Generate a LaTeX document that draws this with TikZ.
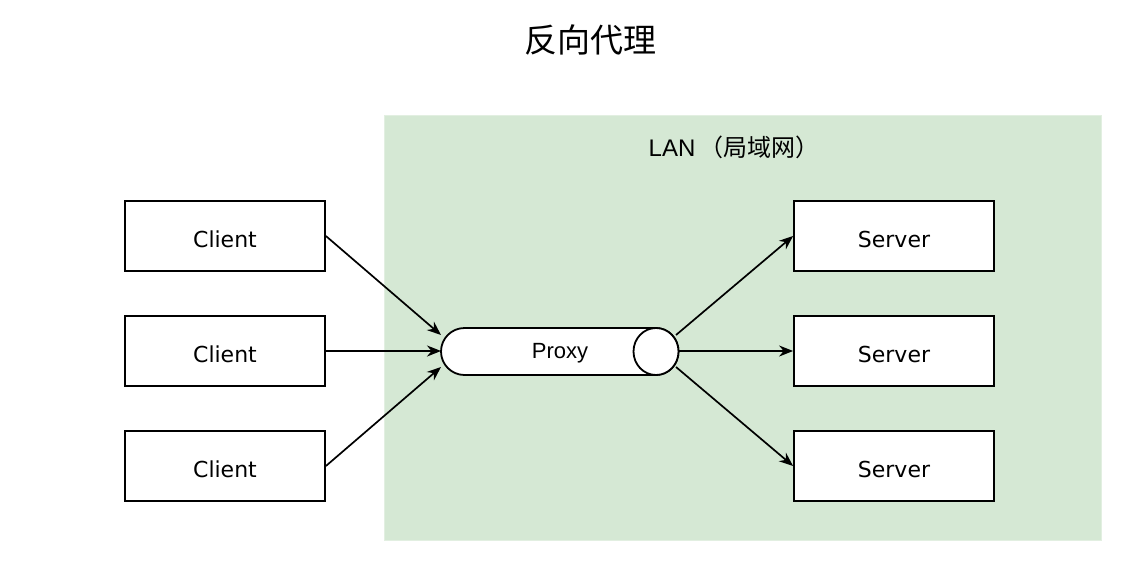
\documentclass[tikz,border=0pt]{standalone}
\usepackage{fontspec}
\setmainfont{DejaVu Sans}
\newfontfamily\helv{Liberation Sans}
\newfontfamily\cjk{Noto Sans CJK SC}
\usetikzlibrary{arrows.meta}
\definecolor{langreen}{HTML}{D5E8D4}
\tikzset{
  box/.style={draw=black, line width=1.8pt, fill=white, minimum width=200pt, minimum height=70pt, inner sep=0pt, text height=22pt, text depth=0pt, font=\fontsize{22}{26}\selectfont},
  conn/.style={line width=1.7pt, -{Stealth[length=14pt,width=11pt]}},
}
\begin{document}
\begin{tikzpicture}[x=1pt,y=-1pt]
\useasboundingbox (0,0) rectangle (1137,560);
\fill[white] (0,0) rectangle (1137,560);
% LAN region
\node[fill=langreen, draw=langreen!70!white, minimum width=717pt, minimum height=425pt, inner sep=0pt, anchor=north west] (lan) at (384,115) {};
\node[font=\cjk\fontsize{33}{38}\selectfont] (title) at (590,40) {反向代理};
\node[font=\fontsize{24}{28}\selectfont] (lanlabel) at (734,147) {{\helv LAN}\,{\cjk （局域网）}};
% clients
\node[box] (c1) at (225,236) {Client};
\node[box] (c2) at (225,351) {Client};
\node[box] (c3) at (225,466) {Client};
% servers
\node[box] (s1) at (894,236) {Server};
\node[box] (s2) at (894,351) {Server};
\node[box] (s3) at (894,466) {Server};
% proxy cylinder
\draw[line width=1.8pt, fill=white] (464.5,328) -- (656,328) arc[start angle=-90, end angle=90, x radius=22.5, y radius=23.5] -- (464.5,375) arc[start angle=90, end angle=270, x radius=23.5, y radius=23.5] -- cycle;
\draw[line width=1.8pt, fill=white] (656,351.5) ellipse[x radius=22.5, y radius=23.5];
\node[font=\helv\fontsize{22}{26}\selectfont, inner sep=0pt, text height=16pt, text depth=0pt] (proxy) at (560,350) {Proxy};
\coordinate (pin1) at (441,335);
\coordinate (pin2) at (441,351);
\coordinate (pin3) at (441,367);
\coordinate (pout1) at (676,335);
\coordinate (pout2) at (678.5,351);
\coordinate (pout3) at (676,367);
\draw[conn] (c1.east) -- (pin1);
\draw[conn] (c2.east) -- (pin2);
\draw[conn] (c3.east) -- (pin3);
\draw[conn] (pout1) -- (s1.west);
\draw[conn] (pout2) -- (s2.west);
\draw[conn] (pout3) -- (s3.west);
\end{tikzpicture}
\end{document}
